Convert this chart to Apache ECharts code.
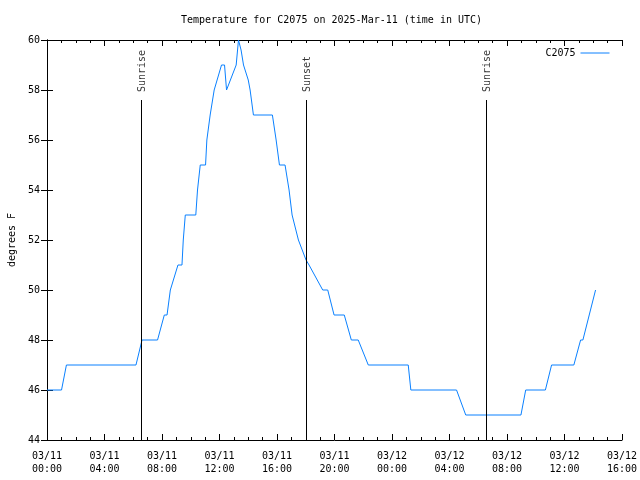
<!DOCTYPE html>
<html>
<head>
<meta charset="utf-8">
<script src="https://cdn.jsdelivr.net/npm/echarts@6/dist/echarts.min.js"></script>
<style>html,body{margin:0;padding:0;background:#fff}#c{width:640px;height:480px}</style>
</head>
<body>
<div id="c"></div>
<script>
// hours since 2025-03-11 00:00 UTC
const timesH = [0, 1.01, 1.35, 6.19, 6.61, 7.69, 8.16, 8.35, 8.58, 9.11, 9.39, 9.48, 9.62, 10.35, 10.47, 10.66, 11.03, 11.12, 11.35, 11.63, 12.14, 12.35, 12.49, 13.16, 13.32, 13.50, 13.67, 14.0, 14.13, 14.36, 15.68, 15.94, 16.17, 16.56, 16.84, 17.05, 17.49, 18.02, 18.23, 19.18, 19.53, 19.97, 20.68, 21.17, 21.65, 22.35, 25.13, 25.31, 28.49, 29.13, 32.97, 33.30, 34.67, 35.10, 36.65, 37.12, 37.28, 38.16];
const tempsF = [46, 46, 47, 47, 48, 48, 49, 49, 50, 51, 51, 52, 53, 53, 54, 55, 55, 56, 57, 58, 59, 59, 58, 59, 60, 59.6, 59, 58.4, 58, 57, 57, 56, 55, 55, 54, 53, 52, 51.2, 51, 50, 50, 49, 49, 48, 48, 47, 47, 46, 46, 45, 45, 46, 46, 47, 47, 48, 48, 50];
const eventNames = ['Sunrise', 'Sunset', 'Sunrise'];
const eventTimesH = [6.58, 18.04, 30.55];
const xTickLabels = ['03/11\n00:00', '03/11\n04:00', '03/11\n08:00', '03/11\n12:00', '03/11\n16:00', '03/11\n20:00', '03/12\n00:00', '03/12\n04:00', '03/12\n08:00', '03/12\n12:00', '03/12\n16:00'];
const yTicks = [44, 46, 48, 50, 52, 54, 56, 58, 60];

const FONT = 'DejaVu Sans Mono';
const chart = echarts.init(document.getElementById('c'), null, {renderer: 'canvas'});
const lineData = timesH.map((t, i) => [t, tempsF[i]]);
const eventTop = 57.6;
const markData = eventTimesH.map(t => [{coord: [t, eventTop]}, {coord: [t, yTicks[0]]}]);
const labelData = eventTimesH.map((t, i) => ({value: [t, eventTop], name: eventNames[i]}));

const xBase = {
  type: 'value', min: 0, max: 40, interval: 4, splitNumber: 10,
  axisLine: {show: true, lineStyle: {color: '#000', width: 1}},
  axisTick: {show: true, inside: true, length: 6, lineStyle: {color: '#000'}},
  minorTick: {show: true, splitNumber: 4, length: 3, lineStyle: {color: '#000'}},
  splitLine: {show: false}, minorSplitLine: {show: false}
};
const yBase = {
  type: 'value', min: 44, max: 60, interval: 2,
  axisLine: {show: true, lineStyle: {color: '#000', width: 1}},
  axisTick: {show: true, inside: true, length: 6, lineStyle: {color: '#000'}},
  splitLine: {show: false}
};

chart.setOption({
  animation: false,
  backgroundColor: '#fff',
  title: {
    text: 'Temperature for C2075 on 2025-Mar-11 (time in UTC)',
    left: 176, top: 10,
    textStyle: {fontFamily: FONT, fontSize: 10, fontWeight: 'normal', color: '#000'}
  },
  legend: {
    data: [{name: 'C2075', itemStyle: {opacity: 0}}], right: 25, top: 43, align: 'right',
    itemWidth: 29, itemHeight: 10, itemGap: 8,
    lineStyle: {width: 1},
    textStyle: {fontFamily: FONT, fontSize: 10, color: '#000'}
  },
  grid: {left: 47, right: 18, top: 40, bottom: 40, containLabel: false, outerBoundsMode: 'none'},
  xAxis: [
    Object.assign({}, xBase, {
      position: 'bottom',
      axisLabel: {show: true, margin: 10, fontFamily: FONT, fontSize: 10, lineHeight: 13, color: '#000',
        formatter: v => xTickLabels[Math.round(v / 4)] || ''}
    }),
    Object.assign({}, xBase, {position: 'top', axisLabel: {show: false}})
  ],
  yAxis: [
    Object.assign({}, yBase, {
      position: 'left',
      name: 'degrees F', nameLocation: 'middle', nameGap: 30, nameRotate: 90,
      nameTextStyle: {fontFamily: FONT, fontSize: 10, color: '#000'},
      axisLabel: {show: true, margin: 7, fontFamily: FONT, fontSize: 10, color: '#000'}
    }),
    Object.assign({}, yBase, {position: 'right', axisLabel: {show: false}})
  ],
  series: [
    {
      name: 'C2075', type: 'line', data: lineData, symbol: 'none', showSymbol: false,
      lineStyle: {color: '#0a80ff', width: 1}, itemStyle: {color: '#0a80ff'},
      markLine: {
        silent: true, symbol: ['none', 'none'], animation: false,
        lineStyle: {color: '#000', width: 1, type: 'solid'},
        label: {show: false},
        data: markData
      }
    },
    {
      name: 'events', type: 'scatter', data: labelData, symbolSize: 0, silent: true,
      label: {
        show: true, formatter: p => p.name, rotate: 90, position: [1, -8],
        align: 'left', verticalAlign: 'middle',
        fontFamily: FONT, fontSize: 10, color: '#000'
      }
    }
  ]
});
</script>
</body>
</html>
